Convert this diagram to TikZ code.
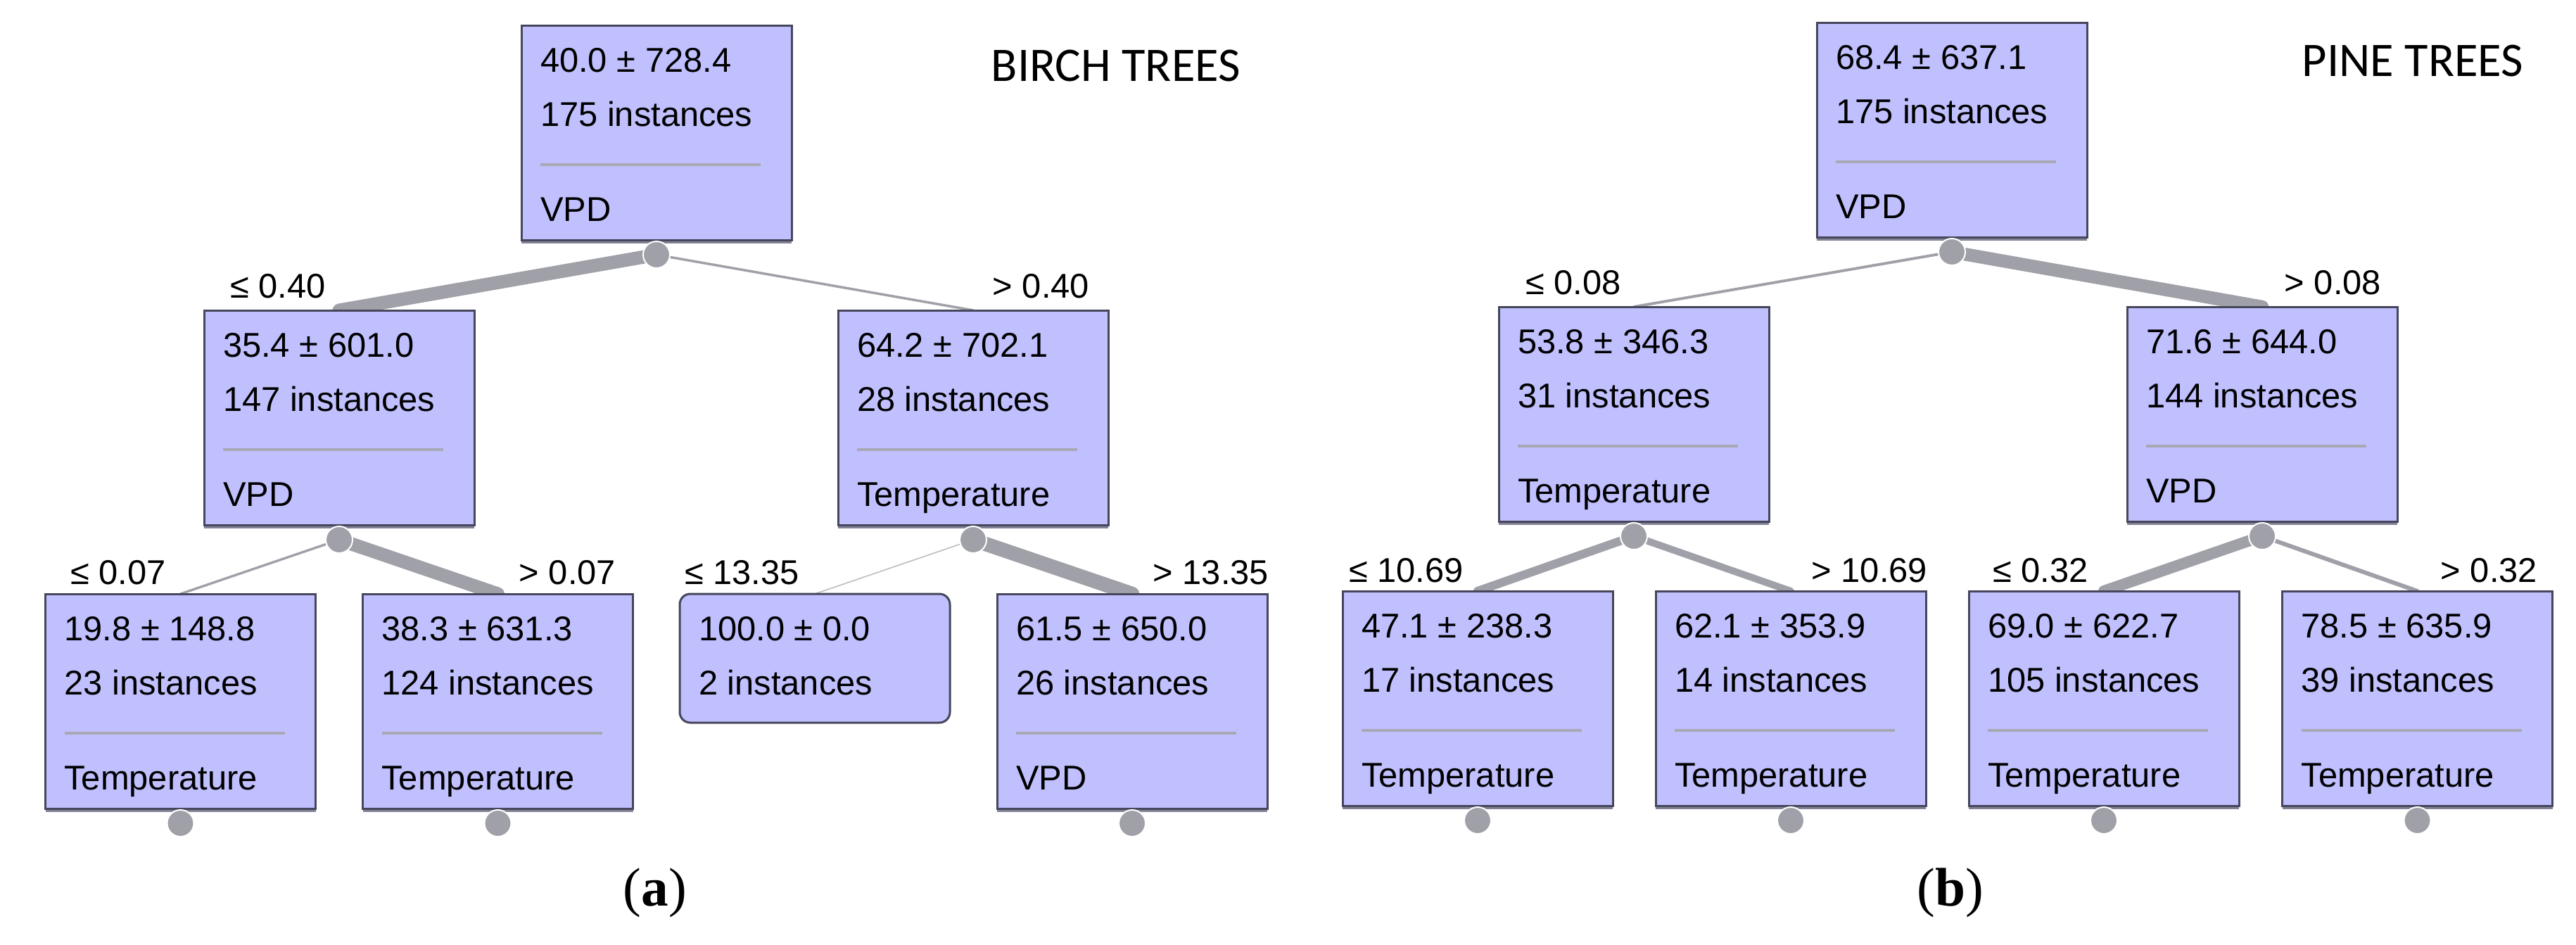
\documentclass[tikz,border=0pt]{standalone}
\usepackage{fontspec}
\setmainfont{Liberation Sans}
\newfontfamily\titlefont{Carlito}
\newfontfamily\capfont{Liberation Serif}
\usetikzlibrary{backgrounds}
\definecolor{boxfill}{RGB}{192,192,255}
\definecolor{boxline}{RGB}{70,70,92}
\definecolor{boxshadow}{RGB}{130,130,150}
\definecolor{conngray}{RGB}{160,160,168}
\definecolor{sepgray}{RGB}{168,168,180}
\tikzset{
  boxst/.style={draw=boxline, fill=boxfill, line width=0.03cm, minimum width=3.84cm, minimum height=3.05cm, inner sep=0pt, outer sep=0pt},
  leafst/.style={boxst, rounded corners=0.15cm, minimum height=1.83cm},
  txt/.style={inner sep=0pt, outer sep=0pt, font=\fontsize{13.9pt}{16pt}\selectfont, text=black},
  sepline/.style={draw=sepgray, line width=0.045cm},
  shadowln/.style={draw=boxshadow, line width=0.035cm},
  tdot/.style={circle, fill=conngray, draw=white, line width=0.02cm, minimum size=0.38cm, inner sep=0pt},
  conn/.style={draw=conngray, line cap=round},
  titletxt/.style={inner sep=0pt, font=\titlefont\fontsize{19.5pt}{22pt}\selectfont},
  captxt/.style={inner sep=0pt, font=\capfont\fontsize{22pt}{26pt}\selectfont}
}
\newcommand{\splitbox}[6]{%
  \node[boxst, anchor=north] (#1) at (#2,-#3) {};
  \draw[shadowln] ([yshift=-0.035cm]#1.south west) -- ([yshift=-0.035cm]#1.south east);
  \node[txt, anchor=base west] (#1-a) at ([xshift=0.27cm,yshift=-0.66cm]#1.north west) {#4};
  \node[txt, anchor=base west] (#1-b) at ([xshift=0.27cm,yshift=-1.43cm]#1.north west) {#5};
  \node[txt, anchor=base west] (#1-c) at ([xshift=0.27cm,yshift=-2.78cm]#1.north west) {#6};
  \draw[sepline] ([xshift=0.27cm,yshift=-1.98cm]#1.north west) -- ([xshift=-0.44cm,yshift=-1.98cm]#1.north east);
  \node[tdot] (#1-d) at ([yshift=-0.21cm]#1.south) {};
}
\newcommand{\leafbox}[5]{%
  \node[leafst, anchor=north] (#1) at (#2,-#3) {};
  \node[txt, anchor=base west] (#1-a) at ([xshift=0.27cm,yshift=-0.66cm]#1.north west) {#4};
  \node[txt, anchor=base west] (#1-b) at ([xshift=0.27cm,yshift=-1.43cm]#1.north west) {#5};
}
\begin{document}
\begin{tikzpicture}
\useasboundingbox (0,0) rectangle (36.61,-13.42);

% ---------- Birch ----------
\splitbox{bR}{9.33}{0.36}{40.0 ± 728.4}{175 instances}{VPD}
\splitbox{bL}{4.82}{4.41}{35.4 ± 601.0}{147 instances}{VPD}
\splitbox{bRt}{13.83}{4.41}{64.2 ± 702.1}{28 instances}{Temperature}
\splitbox{bLL}{2.565}{8.44}{19.8 ± 148.8}{23 instances}{Temperature}
\splitbox{bLR}{7.075}{8.44}{38.3 ± 631.3}{124 instances}{Temperature}
\leafbox{bRL}{11.58}{8.44}{100.0 ± 0.0}{2 instances}
\splitbox{bRR}{16.09}{8.44}{61.5 ± 650.0}{26 instances}{VPD}

\node[titletxt, anchor=base west] (btitle) at (14.08,-1.15) {BIRCH TREES};

\node[txt, anchor=base west] (lb1) at (3.27,-4.23) {≤ 0.40};
\node[txt, anchor=base east] (lb2) at (15.48,-4.23) {> 0.40};
\node[txt, anchor=base west] (lb3) at (1.00,-8.30) {≤ 0.07};
\node[txt, anchor=base east] (lb4) at (8.75,-8.30) {> 0.07};
\node[txt, anchor=base west] (lb5) at (9.73,-8.30) {≤ 13.35};
\node[txt, anchor=base east] (lb6) at (18.03,-8.30) {> 13.35};

\node[captxt, anchor=base] (capa) at (9.31,-12.87) {(\textbf{a})};

% ---------- Pine ----------
\splitbox{pR}{27.74}{0.32}{68.4 ± 637.1}{175 instances}{VPD}
\splitbox{pL}{23.22}{4.36}{53.8 ± 346.3}{31 instances}{Temperature}
\splitbox{pRt}{32.15}{4.36}{71.6 ± 644.0}{144 instances}{VPD}
\splitbox{pLL}{21.00}{8.40}{47.1 ± 238.3}{17 instances}{Temperature}
\splitbox{pLR}{25.45}{8.40}{62.1 ± 353.9}{14 instances}{Temperature}
\splitbox{pRL}{29.90}{8.40}{69.0 ± 622.7}{105 instances}{Temperature}
\splitbox{pRR}{34.355}{8.40}{78.5 ± 635.9}{39 instances}{Temperature}

\node[titletxt, anchor=base west] (ptitle) at (32.71,-1.08) {PINE TREES};

\node[txt, anchor=base west] (lp1) at (21.68,-4.18) {≤ 0.08};
\node[txt, anchor=base east] (lp2) at (33.84,-4.18) {> 0.08};
\node[txt, anchor=base west] (lp3) at (19.17,-8.27) {≤ 10.69};
\node[txt, anchor=base east] (lp4) at (27.39,-8.27) {> 10.69};
\node[txt, anchor=base west] (lp5) at (28.32,-8.27) {≤ 0.32};
\node[txt, anchor=base east] (lp6) at (36.06,-8.27) {> 0.32};

\node[captxt, anchor=base] (capb) at (27.72,-12.87) {(\textbf{b})};

% ---------- connectors ----------
\begin{scope}[on background layer]
\draw[conn, line width=0.19cm] (bR-d.center) -- (bL.north);
\draw[conn, line width=0.035cm] (bR-d.center) -- (bRt.north);
\draw[conn, line width=0.034cm] (bL-d.center) -- (bLL.north);
\draw[conn, line width=0.19cm] (bL-d.center) -- (bLR.north);
\draw[conn, draw=conngray!70, line width=0.016cm] (bRt-d.center) -- (bRL.north);
\draw[conn, line width=0.205cm] (bRt-d.center) -- (bRR.north);

\draw[conn, line width=0.039cm] (pR-d.center) -- (pL.north);
\draw[conn, line width=0.185cm] (pR-d.center) -- (pRt.north);
\draw[conn, line width=0.121cm] (pL-d.center) -- (pLL.north);
\draw[conn, line width=0.099cm] (pL-d.center) -- (pLR.north);
\draw[conn, line width=0.160cm] (pRt-d.center) -- (pRL.north);
\draw[conn, line width=0.060cm] (pRt-d.center) -- (pRR.north);
\end{scope}
\end{tikzpicture}
\end{document}
